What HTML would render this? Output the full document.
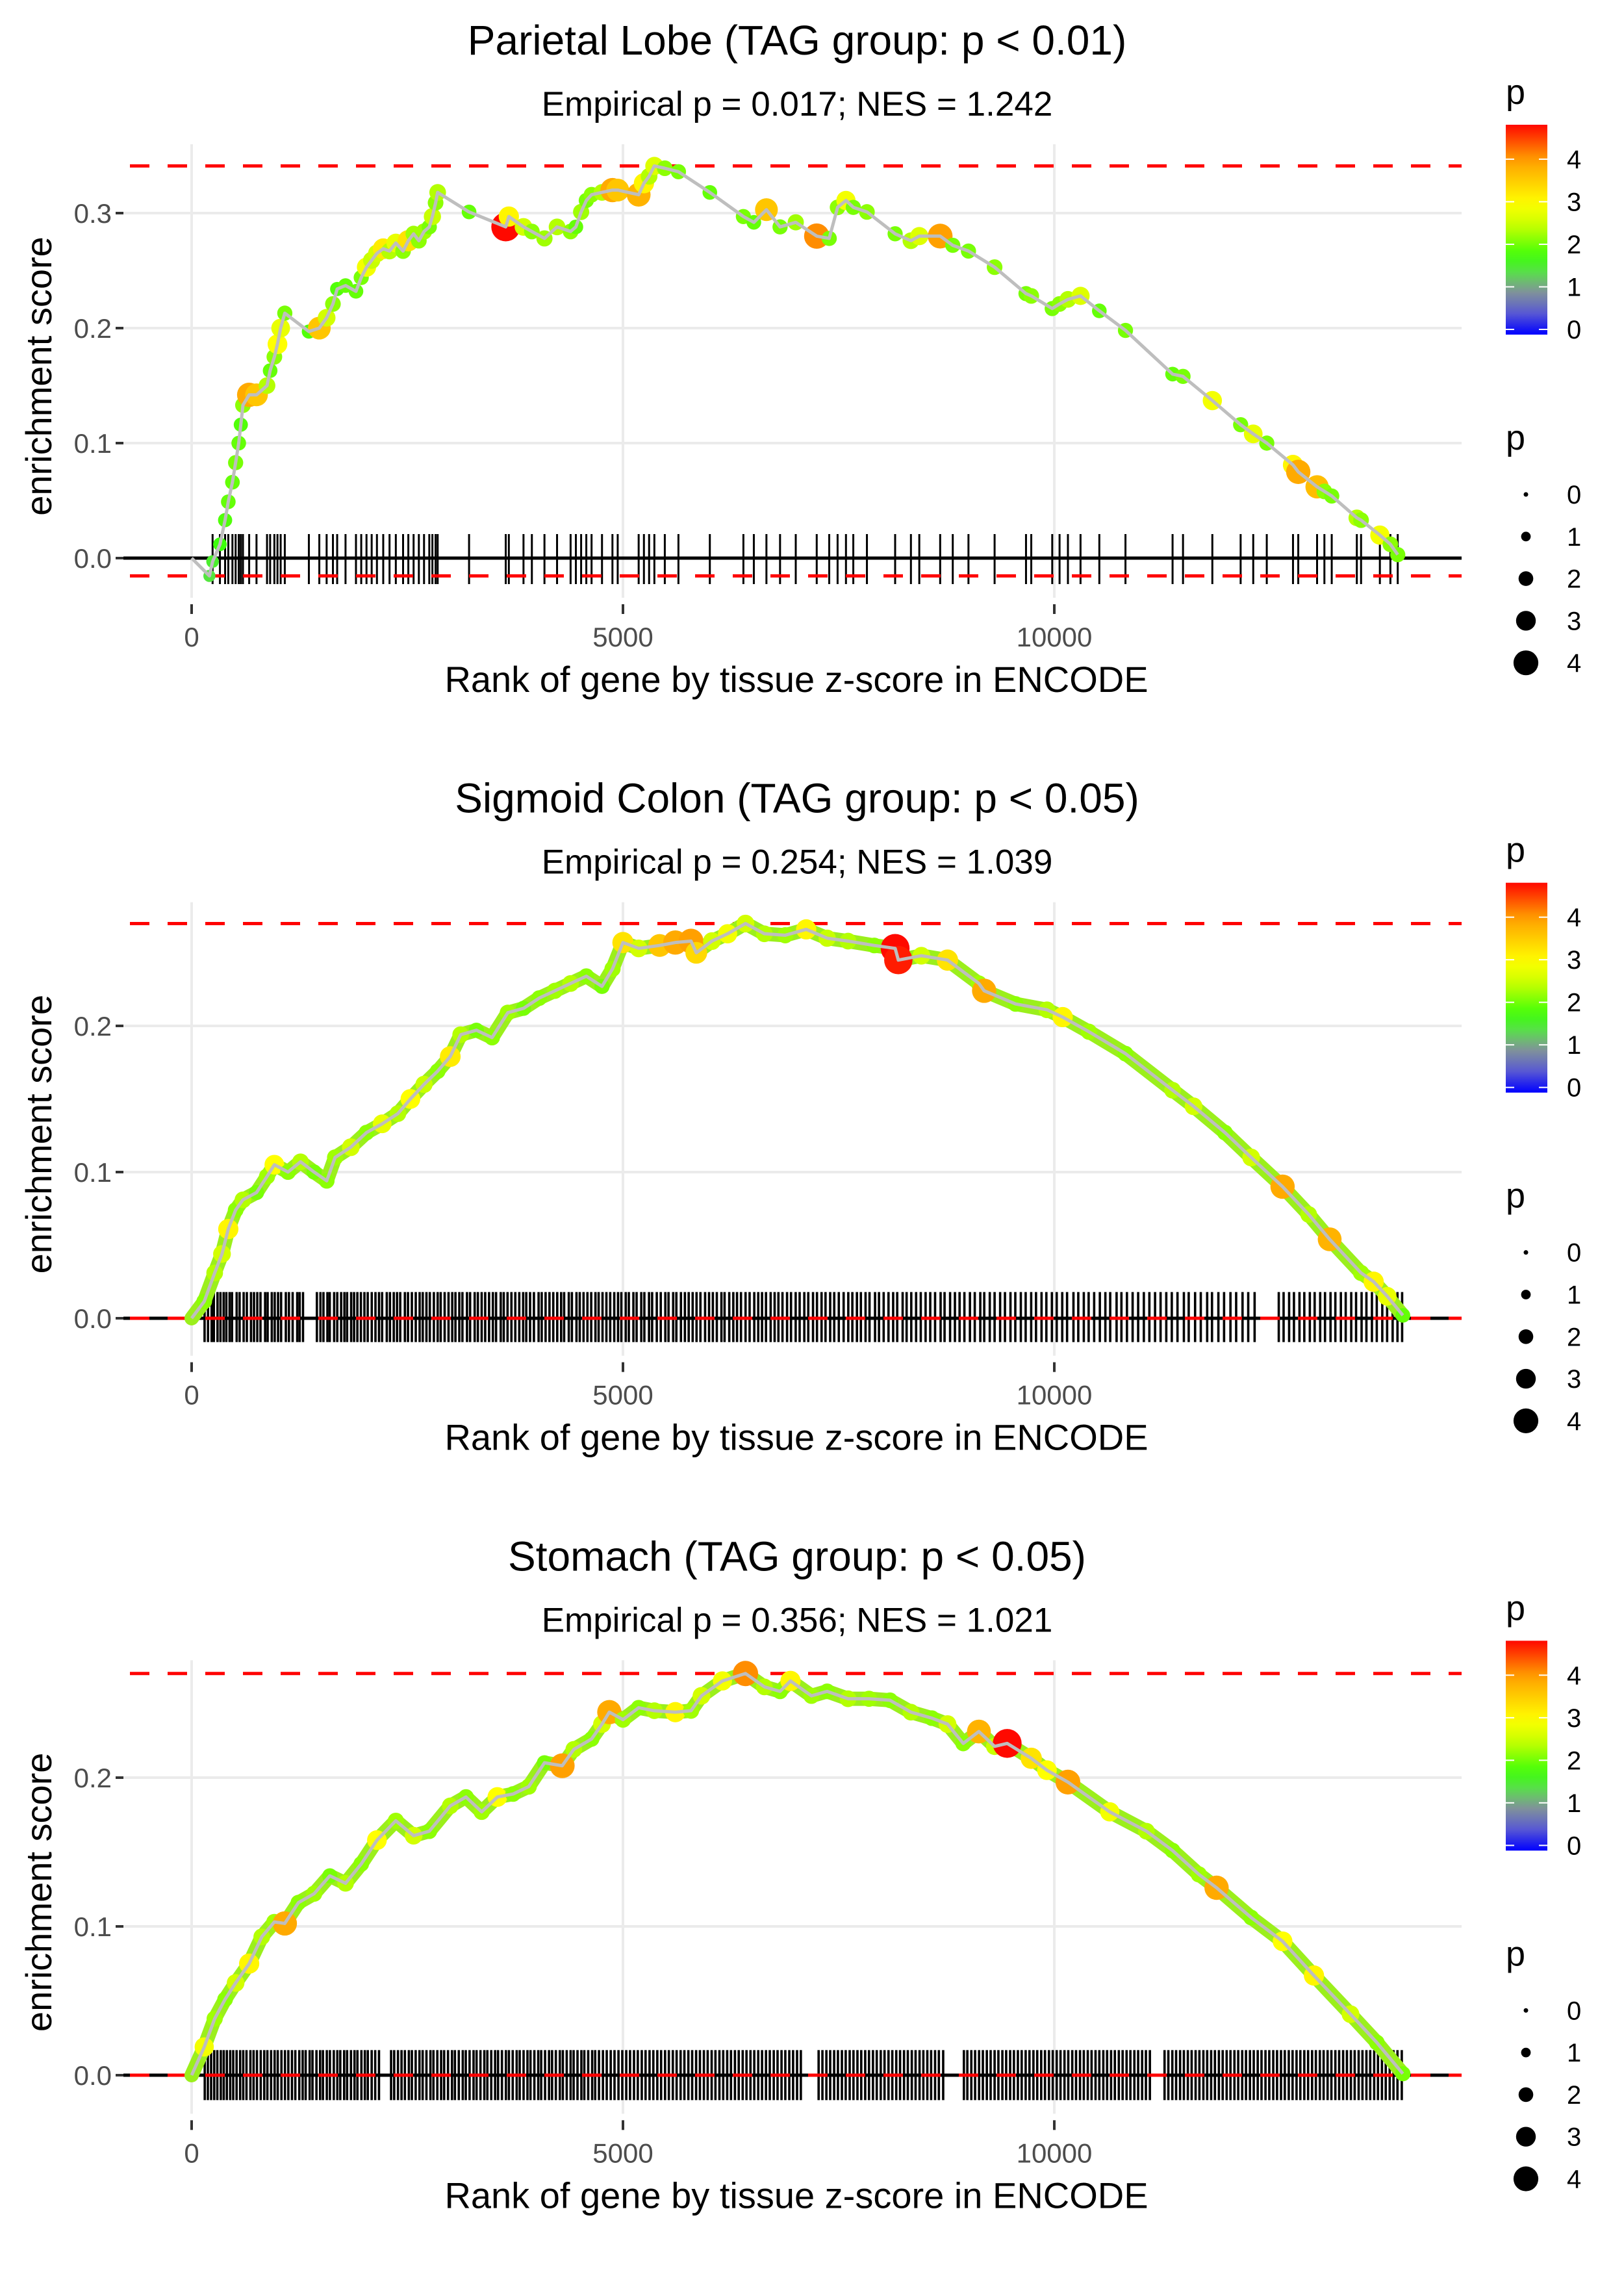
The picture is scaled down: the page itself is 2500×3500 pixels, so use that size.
<!DOCTYPE html>
<html><head><meta charset="utf-8"><style>
html,body{margin:0;padding:0;background:#fff;}
svg{display:block;font-family:"Liberation Sans",sans-serif;}
</style></head><body>
<svg id="fig" width="2500" height="3500" viewBox="0 0 2500 3500" xmlns="http://www.w3.org/2000/svg"></svg>
<script>
// ---------- Panel 1: Parietal Lobe ----------
const p1Ranks=[0,206,243,328,388,425,473,510,546,570,595,667,752,874,910,959,995,1032,1080,1359,1480,1565,1638,1687,1784,1905,1966,2027,2087,2148,2221,2294,2367,2451,2512,2573,2634,2694,2755,2791,2828,2852,3216,3641,3677,3847,3944,4090,4236,4393,4454,4515,4575,4636,4757,4878,4939,5182,5243,5303,5364,5485,5643,6007,6396,6517,6663,6821,7003,7246,7391,7488,7585,7670,7828,8155,8338,8435,8677,8823,9005,9308,9672,9733,9976,10061,10158,10304,10522,10825,11371,11492,11832,12160,12306,12463,12767,12828,13046,13131,13216,13507,13556,13774,13896,13981];
const p1ES=[0,-0.0155,-0.003,0.012,0.033,0.049,0.066,0.083,0.1,0.116,0.133,0.142,0.142,0.150,0.163,0.175,0.186,0.2,0.213,0.197,0.200,0.209,0.221,0.234,0.237,0.232,0.244,0.253,0.259,0.265,0.269,0.267,0.274,0.267,0.276,0.282,0.276,0.284,0.288,0.297,0.309,0.318,0.301,0.288,0.297,0.288,0.284,0.278,0.288,0.284,0.288,0.301,0.311,0.316,0.318,0.320,0.320,0.316,0.326,0.332,0.341,0.339,0.336,0.318,0.297,0.292,0.303,0.288,0.292,0.280,0.278,0.305,0.311,0.305,0.301,0.282,0.276,0.280,0.280,0.272,0.267,0.253,0.230,0.228,0.217,0.221,0.225,0.228,0.215,0.198,0.160,0.158,0.137,0.116,0.108,0.100,0.081,0.075,0.062,0.058,0.054,0.035,0.033,0.020,0.012,0.003];
const p1P=[0,1.5,1.6,1.8,1.9,2,2,2.1,2,1.9,2.2,3.9,3.6,2.4,2,2.2,3,2.8,2.1,1.9,3.6,2.6,2.2,1.9,2,2,2.1,2.9,2.5,2.6,3.2,2.4,2.8,2.2,3.3,2.3,2.2,2.3,2.1,2.5,2.2,2.4,2.0,4.8,3.1,2.6,2.2,2.3,2.4,2.2,2.0,2.3,2.1,2.2,2.4,3.9,3.6,3.8,3.1,2.4,2.7,2.2,2.1,2.0,2.1,2.0,3.6,2.1,2.3,4.1,2.1,2.2,2.9,2.1,2.2,2.1,2.4,2.7,4.0,2.1,2.1,2.2,2.1,2.2,2.1,2.2,2.4,2.7,2.0,2.1,2.0,2.1,2.9,2.1,2.8,2.1,3.1,3.9,3.7,2.2,2.1,2.4,2.2,2.9,2.2,2.1];
const p1Rug=p1Ranks.slice(2);
const p1Ticks=[0,0.1,0.2,0.3];

// ---------- Panel 2: Sigmoid Colon ----------
const p2Ranks=[0,146,267,352,425,510,595,752,874,959,1117,1262,1420,1566,1663,1845,2027,2209,2391,2536,2694,2852,2998,3119,3301,3483,3665,3847,4029,4211,4393,4575,4757,4879,5000,5182,5425,5607,5789,5850,6031,6213,6420,6639,6881,7124,7367,7609,7913,8155,8192,8459,8762,9126,9187,9551,9915,10097,10401,10825,11371,11614,11978,12282,12646,12949,13192,13556,13702,13859,14041];
const p2ES=[0,0.0115,0.031,0.044,0.061,0.074,0.081,0.086,0.097,0.105,0.100,0.107,0.100,0.094,0.110,0.117,0.127,0.133,0.140,0.150,0.160,0.169,0.179,0.194,0.197,0.192,0.209,0.212,0.219,0.224,0.229,0.234,0.227,0.239,0.257,0.253,0.255,0.257,0.258,0.250,0.258,0.263,0.270,0.263,0.262,0.266,0.260,0.258,0.255,0.253,0.245,0.248,0.245,0.229,0.224,0.215,0.211,0.206,0.196,0.181,0.156,0.145,0.127,0.110,0.090,0.071,0.054,0.031,0.025,0.015,0.002];
const p2P=[0,2.2,2.4,2.6,3.1,2.2,2.4,2.1,2.3,3.0,2.2,2.4,2.1,2.2,2.3,2.6,2.2,2.8,2.4,3.0,2.5,2.2,3.2,2.4,2.1,2.2,2.3,2.1,2.2,2.3,2.4,2.2,2.1,2.3,3.3,2.6,3.6,3.9,4.0,3.4,2.6,2.9,2.6,2.4,2.3,3.1,2.5,2.4,2.2,4.8,4.7,2.6,3.3,2.3,3.9,2.2,2.4,3.1,2.3,2.2,2.4,2.6,2.2,2.6,3.9,2.4,3.8,2.3,3.1,2.8,2.0];
const p2Rug=[150,190,232,258,300,334,371,402,440,468,522,556,603,640,688,723,761,798,852,881,929,963,1002,1037,1092,1128,1171,1224,1252,1291,1452,1493,1528,1574,1601,1652,1688,1733,1771,1802,1849,1883,1921,1962,2003,2041,2088,2131,2172,2208,2262,2299,2343,2381,2418,2472,2508,2553,2598,2643,2679,2722,2761,2808,2852,2887,2933,2978,3021,3058,3103,3139,3192,3228,3281,3318,3362,3403,3448,3492,3529,3583,3618,3662,3707,3752,3798,3843,3879,3923,3968,4022,4058,4103,4148,4192,4238,4283,4318,4372,4408,4461,4499,4543,4588,4632,4681,4718,4763,4808,4852,4899,4943,4981,5032,5068,5121,5158,5212,5248,5302,5338,5392,5438,5491,5528,5582,5619,5672,5718,5762,5808,5853,5898,5952,5998,6042,6088,6141,6178,6232,6279,6322,6368,6421,6468,6522,6568,6612,6658,6712,6758,6802,6849,6902,6948,7002,7048,7102,7148,7203,7249,7302,7348,7402,7449,7502,7558,7612,7659,7712,7758,7812,7858,7922,7968,8022,8078,8132,8179,8242,8288,8342,8398,8452,8508,8562,8618,8682,8728,8792,8848,8902,8958,9022,9078,9142,9188,9252,9308,9372,9428,9492,9548,9612,9668,9732,9788,9852,9908,9972,10028,10092,10148,10222,10278,10342,10398,10462,10528,10592,10648,10722,10778,10842,10908,10972,11038,11102,11168,11232,11298,11362,11428,11502,11558,11632,11698,11772,11828,11902,11968,12042,12108,12182,12248,12322,12602,12658,12722,12778,12842,12898,12962,13018,13082,13138,13202,13258,13322,13378,13442,13498,13562,13618,13682,13738,13802,13858,13922,13978,14032];
const p2Ticks=[0,0.1,0.2];

// ---------- Panel 3: Stomach ----------
const p3Ranks=[0,146,267,388,510,667,813,959,1080,1238,1420,1602,1784,1966,2148,2367,2573,2755,2998,3180,3362,3544,3726,3908,4090,4296,4430,4636,4757,4842,5000,5182,5364,5607,5789,5910,6153,6420,6639,6821,6942,7185,7367,7609,7852,8095,8338,8580,8762,8944,9126,9308,9454,9733,9915,10158,10643,11068,11371,11675,11881,12282,12646,13010,13434,13738,14041];
const p3ES=[0,0.019,0.038,0.051,0.062,0.075,0.093,0.103,0.102,0.116,0.122,0.134,0.129,0.142,0.158,0.171,0.161,0.164,0.181,0.187,0.177,0.187,0.189,0.194,0.210,0.208,0.219,0.226,0.236,0.244,0.239,0.247,0.245,0.244,0.245,0.255,0.265,0.270,0.261,0.258,0.265,0.255,0.258,0.253,0.253,0.252,0.244,0.240,0.236,0.223,0.231,0.221,0.223,0.213,0.205,0.197,0.177,0.164,0.151,0.135,0.126,0.106,0.090,0.067,0.041,0.022,0.001];
const p3P=[0,2.9,2.3,2.2,2.6,3.1,2.4,2.3,3.9,2.2,2.3,2.1,2.4,2.2,3.0,2.3,2.6,2.2,2.4,2.2,2.3,3.0,2.2,2.3,2.1,4.0,2.4,2.2,2.6,3.9,2.3,2.2,2.4,3.1,2.3,2.6,2.9,4.1,2.4,2.2,3.1,2.3,2.2,2.4,2.3,2.2,2.4,2.2,2.6,2.2,3.8,2.5,4.8,3.3,3.0,4.0,2.9,2.4,2.2,2.3,3.9,2.2,3.0,3.1,2.6,2.2,2.1];
const p3Rug=[152,188,226,262,298,338,372,408,447,482,521,562,598,636,681,718,757,801,842,878,921,962,998,1041,1082,1121,1163,1202,1248,1287,1322,1368,1401,1447,1489,1522,1567,1603,1648,1689,1723,1768,1802,1847,1888,1922,1968,2008,2042,2087,2128,2172,2312,2348,2392,2433,2472,2518,2553,2597,2641,2678,2722,2768,2803,2848,2892,2927,2972,3018,3052,3097,3143,3178,3222,3268,3303,3348,3393,3428,3473,3518,3552,3597,3643,3678,3722,3768,3803,3848,3893,3928,3973,4018,4052,4097,4143,4178,4222,4268,4303,4348,4393,4428,4473,4518,4552,4597,4643,4678,4722,4768,4812,4858,4902,4948,4992,5038,5082,5128,5172,5218,5262,5308,5352,5398,5442,5488,5532,5578,5622,5668,5712,5758,5802,5848,5892,5938,5982,6028,6072,6118,6162,6208,6252,6298,6342,6388,6432,6478,6522,6568,6612,6658,6702,6748,6792,6838,6882,6928,6972,7018,7062,7268,7312,7358,7402,7448,7492,7538,7582,7628,7672,7718,7762,7808,7852,7898,7942,7988,8032,8078,8122,8168,8212,8258,8302,8348,8392,8438,8482,8528,8572,8618,8662,8712,8952,8992,9038,9082,9128,9172,9218,9262,9308,9352,9398,9442,9488,9532,9578,9622,9668,9712,9758,9802,9848,9892,9938,9982,10028,10072,10118,10162,10208,10252,10298,10342,10388,10432,10478,10522,10568,10612,10658,10702,10748,10792,10838,10882,10928,10972,11018,11062,11108,11278,11322,11368,11412,11458,11502,11548,11592,11638,11682,11728,11772,11818,11862,11908,11952,11998,12042,12088,12132,12178,12222,12268,12312,12358,12402,12448,12492,12538,12582,12628,12672,12718,12762,12808,12852,12898,12942,12988,13032,13078,13122,13168,13212,13258,13302,13348,13392,13438,13482,13528,13572,13618,13662,13708,13752,13798,13842,13888,13932,13978,14028];
const p3Ticks=[0,0.1,0.2];

const xTicks=[0,5000,10000];
const legendVals=[0,1,2,3,4];
</script>
<script>
const NS="http://www.w3.org/2000/svg";
const svg=document.getElementById('fig');
function mk(tag,attrs,parent){const e=document.createElementNS(NS,tag);for(const k in attrs)e.setAttribute(k,attrs[k]);(parent||svg).appendChild(e);return e;}
const stops=[[0,[0,0,255]],[0.5,[90,90,210]],[1,[130,150,150]],[1.4,[90,220,80]],[1.8,[60,255,10]],[2.5,[200,255,0]],[3,[255,255,0]],[4,[255,160,0]],[4.85,[255,0,0]]];
function pcol(p){if(p<=stops[0][0])return 'rgb(0,0,255)';for(let i=1;i<stops.length;i++){if(p<=stops[i][0]){const a=stops[i-1],b=stops[i];const t=(p-a[0])/(b[0]-a[0]);const c=a[1].map((v,j)=>Math.round(v+(b[1][j]-v)*t));return 'rgb('+c.join(',')+')';}}return 'rgb(255,0,0)';}
function prad(p){return 3.5+3.9*p;}

const panels=[
 {title:'Parietal Lobe (TAG group: p < 0.01)',sub:'Empirical p = 0.017; NES = 1.242',ranks:p1Ranks,es:p1ES,pv:p1P,rug:p1Rug,ticks:p1Ticks,y0:859,per:1770,band:false,rw:3,key:'parietal'},
 {title:'Sigmoid Colon (TAG group: p < 0.05)',sub:'Empirical p = 0.254; NES = 1.039',ranks:p2Ranks,es:p2ES,pv:p2P,rug:p2Rug,ticks:p2Ticks,y0:862.3,per:2250,band:true,rw:3.6,key:'sigmoid'},
 {title:'Stomach (TAG group: p < 0.05)',sub:'Empirical p = 0.356; NES = 1.021',ranks:p3Ranks,es:p3ES,pv:p3P,rug:p3Rug,ticks:p3Ticks,y0:860.7,per:2290,band:true,rw:3.6,key:'stomach'}
];
const PX0=190,PX1=2250,PY0=222,PY1=920;
function xs(r){return 295+r*0.1328;}

panels.forEach((P,k)=>{
 const g=mk('g',{transform:'translate(0,'+(k*3500/3).toFixed(2)+')'});
 
 
 const ys=v=>P.y0-v*P.per;
 const t=mk('text',{x:1227,y:84,'text-anchor':'middle','font-size':64,fill:'#000'},g);t.textContent=P.title;
 
 const st=mk('text',{x:1227,y:178,'text-anchor':'middle','font-size':53,fill:'#000'},g);st.textContent=P.sub;
 
 P.ticks.forEach(v=>{const l=mk('line',{x1:PX0,x2:PX1,y1:ys(v),y2:ys(v),stroke:'#ebebeb','stroke-width':4},g);
  });
 xTicks.forEach(v=>{const l=mk('line',{x1:xs(v),x2:xs(v),y1:PY0,y2:PY1,stroke:'#ebebeb','stroke-width':4},g);
  });
 P.ticks.forEach(v=>{const tm=mk('line',{x1:178,x2:190,y1:ys(v),y2:ys(v),stroke:'#333','stroke-width':4},g);
  
  const tl=mk('text',{x:172,y:ys(v)+15,'text-anchor':'end','font-size':42,fill:'#4d4d4d'},g);tl.textContent=v.toFixed(1);
  });
 xTicks.forEach(v=>{const tm=mk('line',{x1:xs(v),x2:xs(v),y1:930,y2:945,stroke:'#333','stroke-width':4},g);
  
  const tl=mk('text',{x:xs(v),y:995,'text-anchor':'middle','font-size':42,fill:'#4d4d4d'},g);tl.textContent=String(v);
  });
 const xt=mk('text',{x:1226,y:1065,'text-anchor':'middle','font-size':56,fill:'#000'},g);xt.textContent='Rank of gene by tissue z-score in ENCODE';
 
 const yt=mk('text',{x:60,y:598,'text-anchor':'middle','font-size':56,fill:'#000',transform:'rotate(-90,60,579)'},g);
 yt.textContent='enrichment score';
 
 P.rug.forEach(r=>{const l=mk('line',{x1:xs(r),x2:xs(r),y1:822,y2:899,stroke:'#000','stroke-width':P.rw},g);
  });
 const zl=mk('line',{x1:PX0,x2:PX1,y1:ys(0),y2:ys(0),stroke:'#000','stroke-width':5},g);
 
 const mx=Math.max(...P.es),mn=Math.min(...P.es);
 [mx,mn].forEach((v,i)=>{const l=mk('line',{x1:PX0+10,x2:PX1,y1:ys(v),y2:ys(v),stroke:'#ff0000','stroke-width':5,'stroke-dasharray':'30 28'},g);
  });
 const pts=P.ranks.map((r,i)=>xs(r).toFixed(1)+','+ys(P.es[i]).toFixed(1)).join(' ');
 if(P.band){const b=mk('polyline',{points:pts,fill:'none',stroke:'#9bef1c','stroke-width':22,'stroke-linejoin':'round','stroke-linecap':'round'},g);
  }
 P.ranks.forEach((r,i)=>{if(i===0)return;const c=mk('circle',{cx:xs(r),cy:ys(P.es[i]),r:prad(P.pv[i]),fill:pcol(P.pv[i])},g);
  });
 const pl=mk('polyline',{points:pts,fill:'none',stroke:'#bebebe','stroke-width':5,'stroke-linejoin':'round'},g);
 
 const lp=mk('text',{x:2318,y:160,'font-size':54,fill:'#000'},g);lp.textContent='p';
 
 const gid='grad'+k;const defs=mk('defs',{},g);const lg=mk('linearGradient',{id:gid,x1:0,y1:1,x2:0,y2:0},defs);
 const pmax=4.81;
 for(let s=0;s<=20;s++){const p=pmax*s/20;mk('stop',{offset:(s/20).toFixed(3),'stop-color':pcol(p)},lg);}
 const cb=mk('rect',{x:2318,y:192,width:64,height:323,fill:'url(#'+gid+')'},g);
 
 const cy=v=>507-v*65.5;
 legendVals.forEach(v=>{
  mk('line',{x1:2318,x2:2331,y1:cy(v),y2:cy(v),stroke:'#fff','stroke-width':2},g);
  mk('line',{x1:2369,x2:2382,y1:cy(v),y2:cy(v),stroke:'#fff','stroke-width':2},g);
  const tl=mk('text',{x:2412,y:cy(v)+14,'font-size':40,fill:'#000'},g);tl.textContent=String(v);
  });
 const sp=mk('text',{x:2318,y:692,'font-size':54,fill:'#000'},g);sp.textContent='p';
 
 legendVals.forEach((v,i)=>{const y=761+i*64.8;
  const c=mk('circle',{cx:2349,cy:y,r:prad(v),fill:'#000'},g);
  
  const tl=mk('text',{x:2412,y:y+14,'font-size':40,fill:'#000'},g);tl.textContent=String(v);
  });
});
</script>
</body></html>
